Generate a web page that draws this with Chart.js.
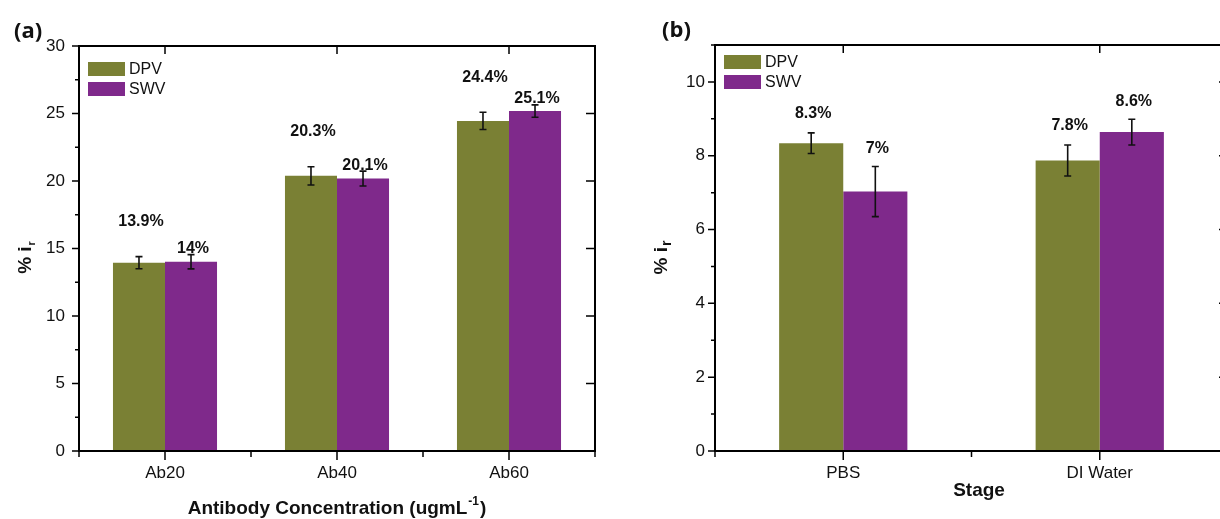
<!DOCTYPE html>
<html><head><meta charset="utf-8">
<script src="https://cdn.jsdelivr.net/npm/chart.js@4.4.0/dist/chart.umd.min.js"></script>
<style>
html,body{margin:0;padding:0;background:#fff;overflow:hidden;width:1220px;height:519px;}
#ca{position:absolute;left:0;top:0;}
#cb{position:absolute;left:610px;top:0;}
</style></head><body>
<canvas id="ca" width="610" height="519"></canvas>
<canvas id="cb" width="630" height="519"></canvas>
<script>
// ---------- data ----------
const seriesNames = ['DPV', 'SWV'];
const seriesColors = ['#7a8034', '#7f298b'];

const catsA = ['Ab20', 'Ab40', 'Ab60'];
const dpvA = [13.95, 20.38, 24.45];
const swvA = [14.02, 20.18, 25.18];
const dpvErrA = [0.45, 0.68, 0.64];
const swvErrA = [0.53, 0.55, 0.46];
const dpvLabelsA = ['13.9%', '20.3%', '24.4%'];
const swvLabelsA = ['14%', '20.1%', '25.1%'];

const catsB = ['PBS', 'DI Water'];
const dpvB = [8.34, 7.87];
const swvB = [7.03, 8.64];
const dpvErrB = [0.28, 0.42];
const swvErrB = [0.68, 0.35];
const dpvLabelsB = ['8.3%', '7.8%'];
const swvLabelsB = ['7%', '8.6%'];

const FONT = '"Liberation Sans", Arial, sans-serif';

// ---------- drawing plugin ----------
const framePlugin = {
  id: 'frame',
  afterDraw(chart) {
    const cfg = chart.options.plugins.frame;
    const { ctx, chartArea: a, scales: { x, y } } = chart;
    ctx.save();
    // error bars + value labels
    cfg.errs.forEach((errArr, di) => {
      const meta = chart.getDatasetMeta(di);
      meta.data.forEach((bar, i) => {
        const v = chart.data.datasets[di].data[i];
        const cx = bar.x;
        const yt = y.getPixelForValue(v + errArr[i]);
        const yb = y.getPixelForValue(v - errArr[i]);
        ctx.strokeStyle = '#111'; ctx.lineWidth = 1.6;
        ctx.beginPath();
        ctx.moveTo(cx, yt); ctx.lineTo(cx, yb);
        ctx.moveTo(cx - 3.5, yt); ctx.lineTo(cx + 3.5, yt);
        ctx.moveTo(cx - 3.5, yb); ctx.lineTo(cx + 3.5, yb);
        ctx.stroke();
        ctx.fillStyle = '#111';
        ctx.font = 'bold 16px ' + FONT;
        ctx.textAlign = 'center'; ctx.textBaseline = 'middle';
        ctx.fillText(cfg.labels[di][i], cx + 2, yt - cfg.labelGap[di]);
      });
    });
    // frame
    ctx.strokeStyle = '#000'; ctx.lineWidth = 2;
    ctx.strokeRect(a.left, a.top, a.right - a.left, a.bottom - a.top);
    ctx.lineWidth = 1.5;
    ctx.beginPath();
    // y ticks
    const step = cfg.step;
    for (let v = y.min; v <= y.max + 1e-9; v += step / 2) {
      const py = y.getPixelForValue(v);
      const major = Math.abs(v / step - Math.round(v / step)) < 1e-6;
      ctx.moveTo(a.left - (major ? 7 : 4), py); ctx.lineTo(a.left, py);
      if (major && cfg.rightTicks) { ctx.moveTo(a.right - 9, py); ctx.lineTo(a.right, py); }
    }
    // x ticks
    const n = chart.data.labels.length;
    for (let i = 0; i < n; i++) {
      const px = x.getPixelForValue(i);
      ctx.moveTo(px, a.bottom); ctx.lineTo(px, a.bottom + 9);
      ctx.moveTo(px, a.top); ctx.lineTo(px, a.top + 8);
    }
    for (let i = 0; i <= n; i++) {
      const px = x.getPixelForValue(i - 0.5);
      ctx.moveTo(px, a.bottom); ctx.lineTo(px, a.bottom + 6);
    }
    ctx.stroke();
    // legend
    const L = cfg.legend;
    chart.data.datasets.forEach((ds, di) => {
      const ly = a.top + L.dy + di * 20;
      ctx.fillStyle = ds.backgroundColor;
      ctx.fillRect(a.left + L.dx, ly, 37, 14);
      ctx.fillStyle = '#111';
      ctx.font = '16px ' + FONT;
      ctx.textAlign = 'left'; ctx.textBaseline = 'middle';
      ctx.fillText(ds.label, a.left + L.dx + 41, ly + 7.5);
    });
    // y title with subscript
    ctx.save();
    ctx.translate(cfg.yTitle.x, cfg.yTitle.y);
    ctx.rotate(-Math.PI / 2);
    ctx.fillStyle = '#111';
    ctx.textBaseline = 'alphabetic'; ctx.textAlign = 'left';
    ctx.font = 'bold 19px ' + FONT;
    const main = '% i';
    const wm = ctx.measureText(main).width;
    ctx.font = 'bold ' + cfg.yTitle.sub + 'px ' + FONT;
    const ws = ctx.measureText('r').width;
    const x0 = -(wm + ws) / 2;
    ctx.font = 'bold 19px ' + FONT;
    ctx.fillText(main, x0, 7);
    ctx.font = 'bold ' + cfg.yTitle.sub + 'px ' + FONT;
    ctx.fillText('r', x0 + wm + 1, 11);
    ctx.restore();
    // x title
    ctx.fillStyle = '#111';
    ctx.textBaseline = 'alphabetic'; ctx.textAlign = 'left';
    const xt = cfg.xTitle;
    ctx.font = 'bold 19px ' + FONT;
    const w1 = ctx.measureText(xt.pre).width;
    const w3 = ctx.measureText(xt.post).width;
    ctx.font = 'bold 12px ' + FONT;
    const w2 = xt.sup ? ctx.measureText(xt.sup).width + 2 : 0;
    const sx = xt.cx - (w1 + w2 + w3) / 2;
    ctx.font = 'bold 19px ' + FONT;
    ctx.fillText(xt.pre, sx, xt.y);
    if (xt.sup) {
      ctx.font = 'bold 12px ' + FONT;
      ctx.fillText(xt.sup, sx + w1 + 1, xt.y - 9);
    }
    ctx.font = 'bold 19px ' + FONT;
    ctx.fillText(xt.post, sx + w1 + w2, xt.y);
    // panel letter
    ctx.font = 'bold 22px "Open Sans", ' + FONT;
    ctx.fillText(cfg.letter.t, cfg.letter.x, cfg.letter.y);
    ctx.restore();
  }
};

function makePanel(id, cats, dpv, swv, errs, labels, o) {
  return new Chart(document.getElementById(id), {
    type: 'bar',
    data: {
      labels: cats,
      datasets: [
        { label: seriesNames[0], data: dpv, backgroundColor: seriesColors[0], borderWidth: 0,
          categoryPercentage: o.cp, barPercentage: 1 },
        { label: seriesNames[1], data: swv, backgroundColor: seriesColors[1], borderWidth: 0,
          categoryPercentage: o.cp, barPercentage: 1 }
      ]
    },
    options: {
      responsive: false, animation: false, devicePixelRatio: 1,
      layout: { padding: { top: o.top, right: o.right, left: 0, bottom: 0 } },
      plugins: {
        legend: { display: false }, tooltip: { enabled: false }, title: { display: false },
        frame: {
          errs: errs, labels: labels, labelGap: o.gap, step: o.step, rightTicks: o.rightTicks,
          legend: o.legend, yTitle: o.yTitle, xTitle: o.xTitle, letter: o.letter
        }
      },
      scales: {
        x: {
          grid: { display: true, drawOnChartArea: false, drawTicks: true, tickLength: 9, color: 'rgba(0,0,0,0)', offset: false },
          border: { display: false },
          ticks: { color: '#111', font: { family: FONT, size: 17 }, padding: 3, maxRotation: 0, autoSkip: false },
          afterFit(s) { s.height = 68; }
        },
        y: {
          min: 0, max: o.max,
          grid: { display: true, drawOnChartArea: false, drawTicks: true, tickLength: 7, color: 'rgba(0,0,0,0)' },
          border: { display: false },
          ticks: { stepSize: o.step, includeBounds: false, color: '#111', font: { family: FONT, size: 17 }, padding: o.tpad },
          afterFit(s) { s.width = o.yw; }
        }
      }
    },
    plugins: [framePlugin]
  });
}

makePanel('ca', catsA, dpvA, swvA, [dpvErrA, swvErrA], [dpvLabelsA, swvLabelsA], {
  cp: 0.605, top: 46, right: 15, yw: 79, max: 30, step: 5, tpad: 7, gap: [35, 6], rightTicks: true,
  legend: { dx: 9, dy: 16 },
  yTitle: { x: 24, y: 258, sub: 11 },
  xTitle: { pre: 'Antibody Concentration (ugmL', sup: '-1', post: ')', cx: 337, y: 514 },
  letter: { t: '(a)', x: 14, y: 38 }
});

makePanel('cb', catsB, dpvB, swvB, [dpvErrB, swvErrB], [dpvLabelsB, swvLabelsB], {
  cp: 0.5, top: 45, right: 12, yw: 105, max: 11, step: 2, tpad: 3, gap: [19, 18], rightTicks: true,
  legend: { dx: 9, dy: 10 },
  yTitle: { x: 50, y: 258, sub: 14 },
  xTitle: { pre: 'Stage', sup: '', post: '', cx: 369, y: 496 },
  letter: { t: '(b)', x: 52, y: 37 }
});
</script>
</body></html>
